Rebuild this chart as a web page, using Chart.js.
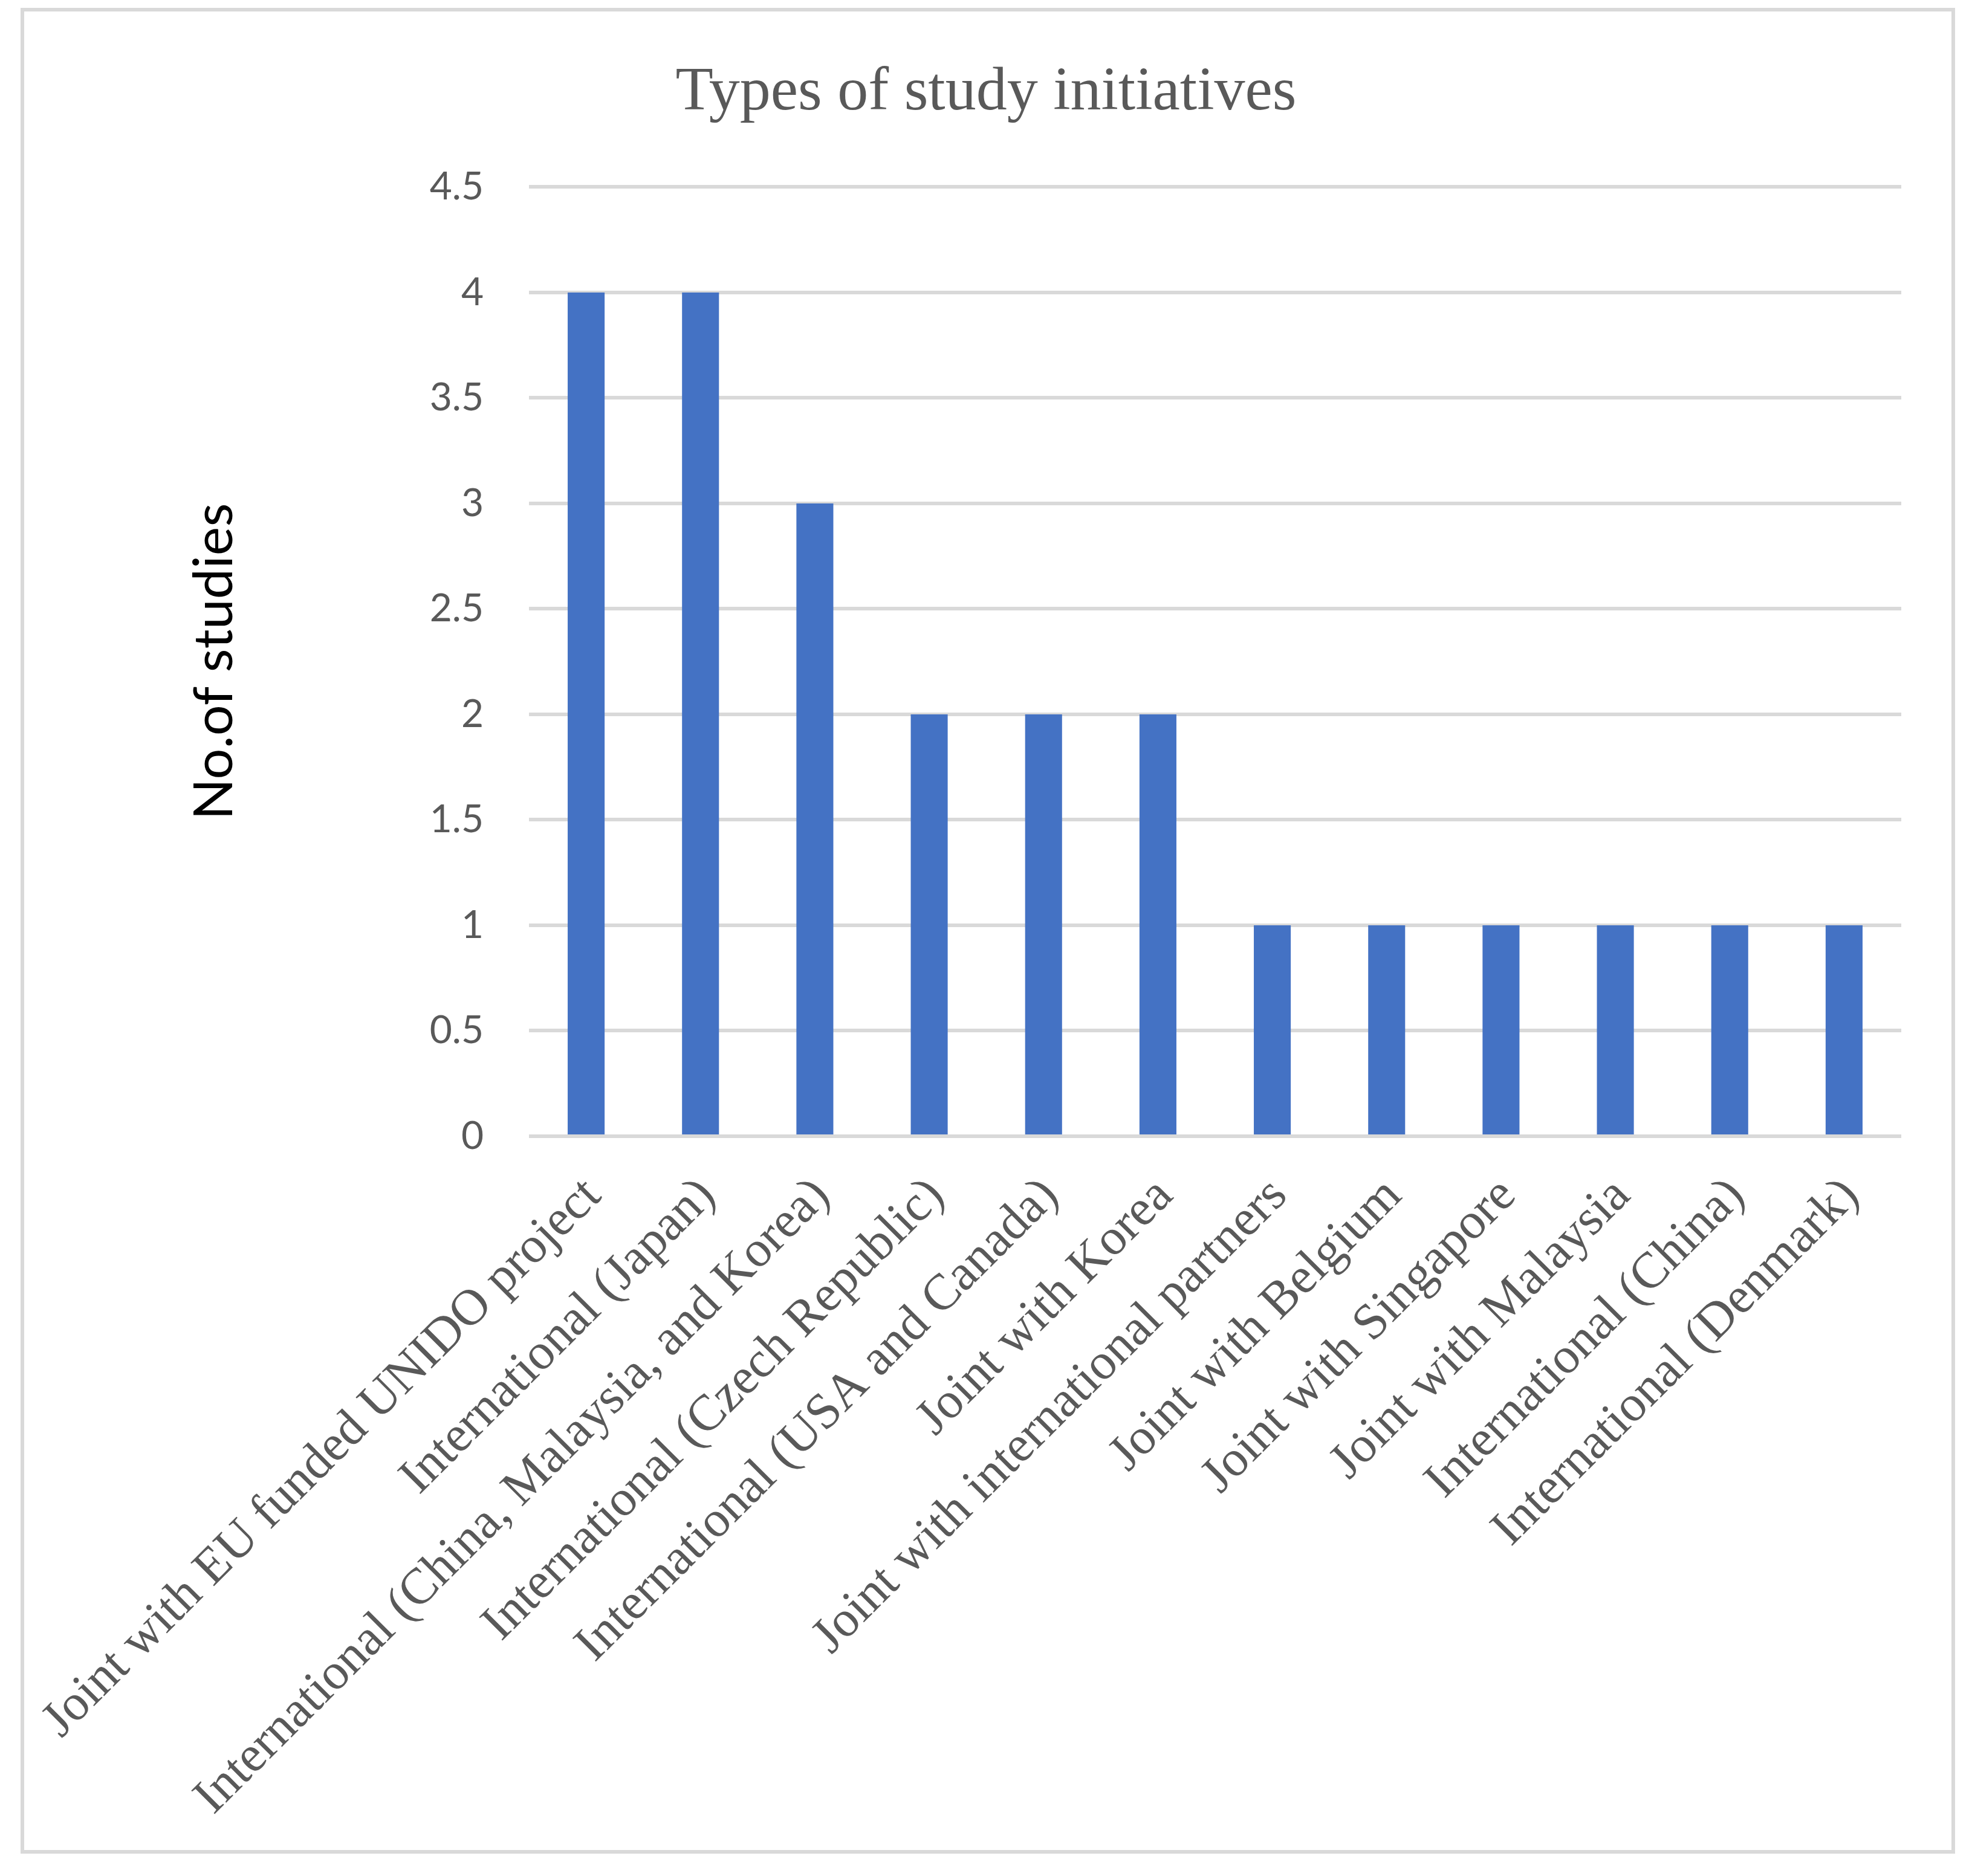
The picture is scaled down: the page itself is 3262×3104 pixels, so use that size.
<!DOCTYPE html>
<html>
<head>
<meta charset="utf-8">
<title>Types of study initiatives</title>
<script src="https://cdn.jsdelivr.net/npm/chart.js@4.4.1/dist/chart.umd.min.js"></script>
<style>
  html, body { margin: 0; padding: 0; background: #fff; }
  canvas { display: block; }
</style>
</head>
<body>
<canvas id="studies" width="3262" height="3104"></canvas>
<script>
/* Data */
const categories = [
  'Joint with EU funded UNIDO project',
  'International (Japan)',
  'International (China, Malaysia, and Korea)',
  'International (Czech Republic)',
  'International (USA and Canada)',
  'Joint with Korea',
  'Joint with international partners',
  'Joint with Belgium',
  'Joint with Singapore',
  'Joint with Malaysia',
  'International (China)',
  'International (Denmark)'
];
const studyCounts = [4, 4, 3, 2, 2, 2, 1, 1, 1, 1, 1, 1];
const yTicks = [0, 0.5, 1, 1.5, 2, 2.5, 3, 3.5, 4, 4.5];

/* grey frame round the whole chart, like the Excel chart area */
const frame = {
  id: 'frame',
  afterDraw(chart) {
    const ctx = chart.ctx;
    ctx.save();
    ctx.strokeStyle = '#d9d9d9';
    ctx.lineWidth = 6;
    ctx.strokeRect(37, 16, chart.width - 31 - 37, chart.height - 40 - 16);
    ctx.restore();
  }
};

const ctx = document.getElementById('studies').getContext('2d');
const chart = new Chart(ctx, {
  type: 'bar',
  data: {
    labels: categories,
    datasets: [{
      data: studyCounts,
      backgroundColor: '#4472c4',
      barPercentage: 0.323,
      categoryPercentage: 1.0
    }]
  },
  options: {
    responsive: false,
    devicePixelRatio: 1,
    animation: false,
    layout: { padding: { left: 117, right: 117, top: 0, bottom: 0 } },
    plugins: {
      legend: { display: false },
      tooltip: { enabled: false },
      title: {
        display: true,
        text: 'Types of study initiatives',
        color: '#595959',
        font: { family: '"Liberation Serif", serif', size: 102, weight: 'normal' },
        padding: { top: 93, bottom: 94 }
      }
    },
    scales: {
      x: {
        grid: { display: false, drawTicks: false },
        border: { display: false },
        ticks: {
          autoSkip: false,
          maxRotation: 45,
          minRotation: 45,
          padding: 50,
          labelOffset: 12,
          color: '#595959',
          font: { family: '"Liberation Serif", serif', size: 84 }
        },
        afterFit(scale) {
          // keep the long rotated labels from squeezing the plot
          scale.height = 1224;
          scale.paddingLeft = 0;
          scale.paddingRight = 0;
        }
      },
      y: {
        min: 0,
        max: 4.5,
        afterBuildTicks(scale) { scale.ticks = yTicks.map(v => ({ value: v })); },
        grid: { color: '#d9d9d9', lineWidth: 6, drawTicks: false },
        border: { display: false },
        ticks: {
          padding: 75,
          color: '#595959',
          font: { family: 'Lato, sans-serif', size: 64 },
          callback: (v) => String(v)
        },
        title: {
          display: true,
          text: 'No.of studies',
          color: '#000000',
          font: { family: 'Lato, sans-serif', size: 90 },
          padding: { top: 184, bottom: 0 }
        },
        afterFit(scale) { scale.width = 758; }
      }
    }
  },
  plugins: [frame]
});
</script>
</body>
</html>
